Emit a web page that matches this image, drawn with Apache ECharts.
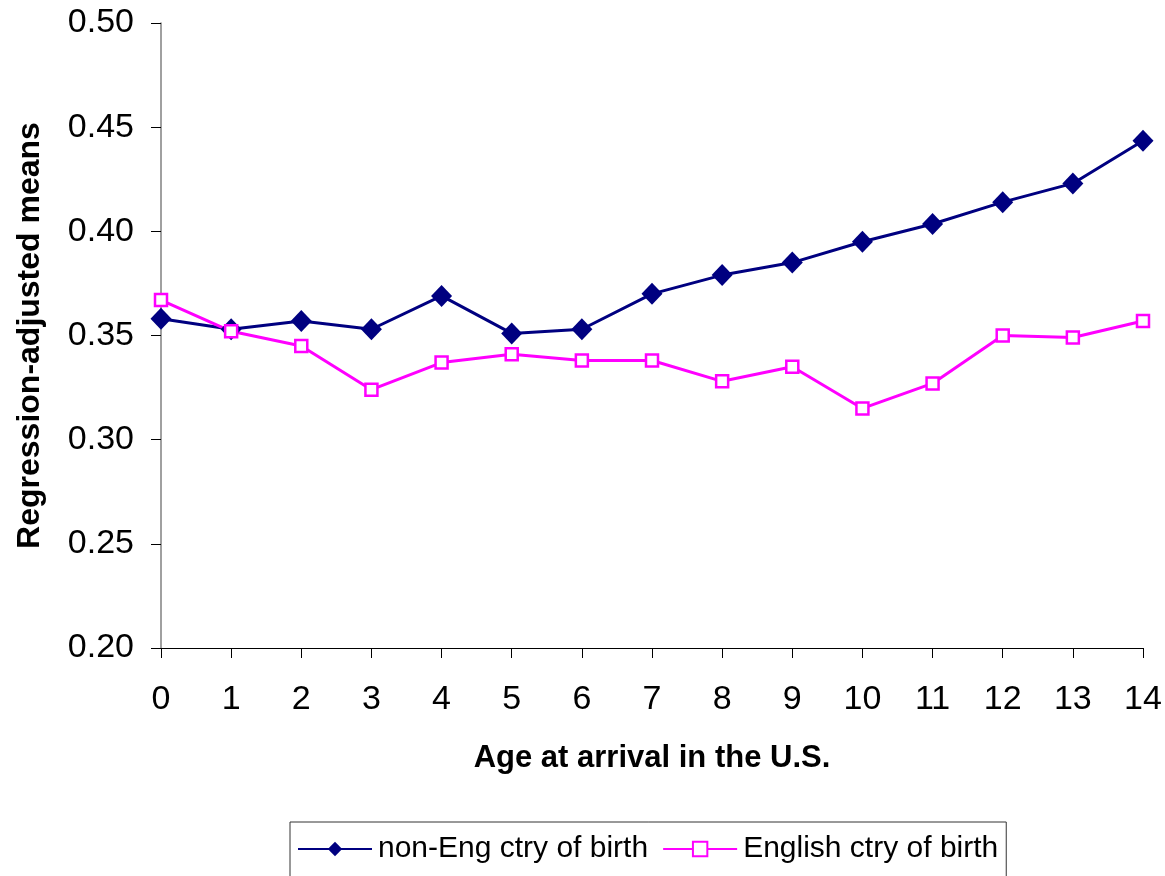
<!DOCTYPE html>
<html>
<head>
<meta charset="utf-8">
<script src="https://cdn.jsdelivr.net/npm/echarts@6/dist/echarts.min.js"></script>
<style>html,body{margin:0;padding:0;background:#fff}#c{width:1165px;height:876px}</style>
</head>
<body>
<div id="c"></div>
<script>
const categories = ['0','1','2','3','4','5','6','7','8','9','10','11','12','13','14'];
const nonEng = [0.358,0.353,0.357,0.353,0.369,0.351,0.353,0.370,0.379,0.385,0.395,0.4035,0.414,0.423,0.4435];
const english = [0.367,0.352,0.345,0.324,0.337,0.341,0.338,0.338,0.328,0.335,0.315,0.327,0.350,0.349,0.357];
const yTicks = [0.20,0.25,0.30,0.35,0.40,0.45,0.50];

const chart = echarts.init(document.getElementById('c'), null, {renderer:'canvas'});
const font = 'Liberation Sans, Arial, sans-serif';
chart.setOption({
  animation:false,
  backgroundColor:'#fff',
  grid:{left:161,right:22,top:23,bottom:228,containLabel:false},
  legend:{
    top:822,left:290,
    padding:[12,8,30,7],
    borderColor:'#333',borderWidth:1,
    itemWidth:74,itemHeight:18,itemGap:14,
    textStyle:{fontFamily:font,fontSize:30,color:'#000',padding:[0,0,0,1]},
    data:['non-Eng ctry of birth','English ctry of birth']
  },
  xAxis:{
    type:'category',data:categories,boundaryGap:false,
    name:'Age at arrival in the U.S.',nameLocation:'middle',nameGap:95,
    nameTextStyle:{fontFamily:font,fontSize:31,fontWeight:'bold',color:'#000'},
    axisLine:{lineStyle:{color:'#000',width:1}},
    axisTick:{show:true,length:10,inside:false,alignWithLabel:true,lineStyle:{color:'#000'}},
    axisLabel:{fontFamily:font,fontSize:34,color:'#000',margin:35},
    splitLine:{show:false}
  },
  yAxis:{
    type:'value',min:0.20,max:0.50,interval:0.05,
    name:'Regression-adjusted means',nameLocation:'middle',nameGap:115,nameRotate:90,
    nameTextStyle:{fontFamily:font,fontSize:32,fontWeight:'bold',color:'#000'},
    axisLine:{show:true,lineStyle:{color:'#808080',width:1.5}},
    axisTick:{show:true,length:10,lineStyle:{color:'#000'}},
    axisLabel:{fontFamily:font,fontSize:34,color:'#000',margin:27,
      formatter:function(v){const t=yTicks.find(x=>Math.abs(x-v)<1e-9);return (t!==undefined?t:v).toFixed(2);}},
    splitLine:{show:false}
  },
  series:[
    {name:'non-Eng ctry of birth',type:'line',data:nonEng,
     symbol:'diamond',symbolSize:[21,22],
     lineStyle:{color:'#000080',width:3},
     itemStyle:{color:'#000080',borderColor:'#000080',borderWidth:0}},
    {name:'English ctry of birth',type:'line',data:english,
     symbol:'rect',symbolSize:12,
     lineStyle:{color:'#FF00FF',width:3},
     itemStyle:{color:'#fff',borderColor:'#FF00FF',borderWidth:2.5}}
  ]
});
</script>
</body>
</html>
